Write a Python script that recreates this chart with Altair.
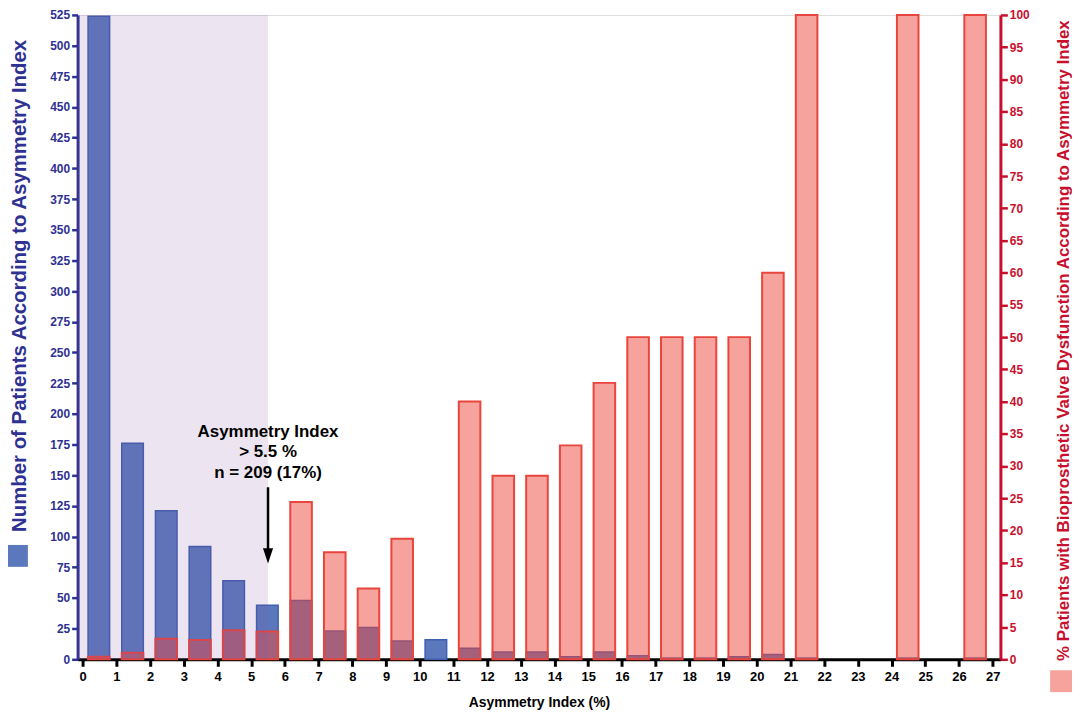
import altair as alt
import pandas as pd

# ---- data ----
bins = list(range(27))  # asymmetry index bins: [i, i+1)
patients = [524, 176, 121, 92, 64, 44, 48, 23, 26, 15, 16, 9, 6, 6, 2, 6, 3, 1, 1, 2, 4, 1, 0, 0, 1, 0, 1]
pct_dysfunction = [0.4, 1.0, 3.2, 3.0, 4.5, 4.3, 24.4, 16.6, 11.0, 18.7, 0, 40, 28.5, 28.5, 33.2,
                   42.9, 50, 50, 50, 50, 60, 100, 0, 0, 100, 0, 100]
x_ticks = list(range(28))
left_ticks = list(range(0, 526, 25))
right_ticks = list(range(0, 101, 5))
threshold = 5.5
annotation_lines = ["Asymmetry Index", "> 5.5 %", "n = 209 (17%)"]

X_DOMAIN = [-0.15, 27.23]
NAVY = "#2e3192"
RED = "#c8102e"
FONT = "Liberation Sans"

df = pd.DataFrame({"bin": bins, "patients": patients, "pct": pct_dysfunction})
df_blue = df[df.patients > 0].assign(series="Number of patients")
df_red = df[df.pct > 0].assign(series="% dysfunction")

xscale = alt.Scale(domain=X_DOMAIN, nice=False, zero=False)
xaxis = alt.Axis(values=x_ticks, title="Asymmetry Index (%)", domainColor="black",
                 domainWidth=3, tickColor="black", tickWidth=3, tickSize=7,
                 labelFontSize=13, labelFontWeight="bold", labelColor="black",
                 labelPadding=4, labelOverlap=False, titleFontSize=14, titleFontWeight="bold",
                 titleColor="black", titlePadding=12, grid=False, labelFlush=False)

left_scale = alt.Scale(domain=[0, 525], nice=False)
right_scale = alt.Scale(domain=[0, 100], nice=False)

left_axis = alt.Axis(values=left_ticks, title="Number of Patients According to Asymmetry Index",
                     domainColor=NAVY, domainWidth=3, tickColor=NAVY, tickWidth=2.5,
                     tickSize=6, labelColor=NAVY, labelFontSize=12, labelFontWeight="bold",
                     labelPadding=2, labelOverlap=False, titleColor=NAVY, titleFontSize=20.5,
                     titleFontWeight="bold", titleX=-58, titleY=272,
                     titleBaseline="middle", grid=False)

right_axis = alt.Axis(orient="right", values=right_ticks,
                      title="% Patients with Bioprosthetic Valve Dysfunction According to Asymmetry Index",
                      domainColor=RED, domainWidth=3, tickColor=RED, tickWidth=2.5,
                      tickSize=7, labelColor=RED, labelFontSize=12, labelFontWeight="bold",
                      labelPadding=2, labelOverlap=False, titleColor=RED, titleFontSize=17,
                      titleFontWeight="bold", titleAngle=270, titleX=63, titleY=327,
                      titleBaseline="middle", grid=False)

blue = alt.Chart(df_blue).transform_calculate(
    x0="datum.bin + 0.16", x1="datum.bin + 0.8"
).mark_bar(stroke="#3f5fb0", strokeWidth=1.5).encode(
    x=alt.X("x0:Q", scale=xscale, axis=xaxis),
    x2="x1:Q",
    y=alt.Y("patients:Q", scale=left_scale, axis=left_axis),
    y2=alt.datum(0),
    color=alt.Color("series:N", scale=alt.Scale(range=["#5b78bd"]),
                    legend=alt.Legend(orient="none", legendX=-72, legendY=533, title=None,
                                      labelExpr="''", symbolType="square", symbolSize=484,
                                      symbolStrokeWidth=0, symbolOpacity=1, padding=0)),
)

red = alt.Chart(df_red).transform_calculate(
    x0="datum.bin + 0.16", x1="datum.bin + 0.8"
).mark_bar(stroke="#e8453c", strokeWidth=2, fillOpacity=0.5).encode(
    x=alt.X("x0:Q", scale=xscale, axis=xaxis),
    x2="x1:Q",
    y=alt.Y("pct:Q", scale=right_scale, axis=right_axis),
    y2=alt.datum(0),
    color=alt.Color("series:N", scale=alt.Scale(range=["#f0483c"]),
                    legend=alt.Legend(orient="none", legendX=978, legendY=659, title=None,
                                      labelExpr="''", symbolType="square", symbolSize=484,
                                      symbolStrokeWidth=0, symbolOpacity=0.5, padding=0)),
)

shade_df = pd.DataFrame({"x0": [X_DOMAIN[0]], "x1": [threshold], "y0": [0], "y1": [100]})
shade = alt.Chart(shade_df).mark_rect(fill="#804fa0", opacity=0.15).encode(
    x=alt.X("x0:Q", scale=xscale, axis=xaxis), x2="x1:Q",
    y=alt.Y("y0:Q", scale=right_scale, axis=right_axis), y2="y1:Q",
)

text_df = pd.DataFrame({"x": [threshold], "y": [35.3], "t": ["\n".join(annotation_lines)]})
text = alt.Chart(text_df).mark_text(
    font=FONT, fontSize=17, fontWeight="bold", color="black", lineBreak="\n",
    lineHeight=20.5, baseline="middle", align="center"
).encode(x=alt.X("x:Q", scale=xscale, axis=xaxis),
         y=alt.Y("y:Q", scale=right_scale, axis=right_axis), text="t:N")

arrow_df = pd.DataFrame({"x": [threshold], "y0": [26.7], "y1": [16.5], "tip": [16.05]})
arrow_line = alt.Chart(arrow_df).mark_rule(color="black", strokeWidth=2.5).encode(
    x=alt.X("x:Q", scale=xscale, axis=xaxis),
    y=alt.Y("y0:Q", scale=right_scale, axis=right_axis), y2="y1:Q")
arrow_head = alt.Chart(arrow_df).mark_point(
    shape="M-0.6,-0.9L0.6,-0.9L0,0.9Z", filled=True, color="black", opacity=1, size=289
).encode(x=alt.X("x:Q", scale=xscale, axis=xaxis),
         y=alt.Y("tip:Q", scale=right_scale, axis=right_axis))

right_group = alt.layer(red, shade, text, arrow_line, arrow_head)

chart = alt.layer(blue, right_group).resolve_scale(
    y="independent", color="independent"
).properties(
    width=928, height=648,
    autosize=alt.AutoSizeParams(type="none"),
    padding={"left": 70, "top": 5, "right": 72, "bottom": 49},
).configure_view(stroke=None).configure(font=FONT)

chart.save("out.html", embed_options={"renderer": "svg", "actions": False})
